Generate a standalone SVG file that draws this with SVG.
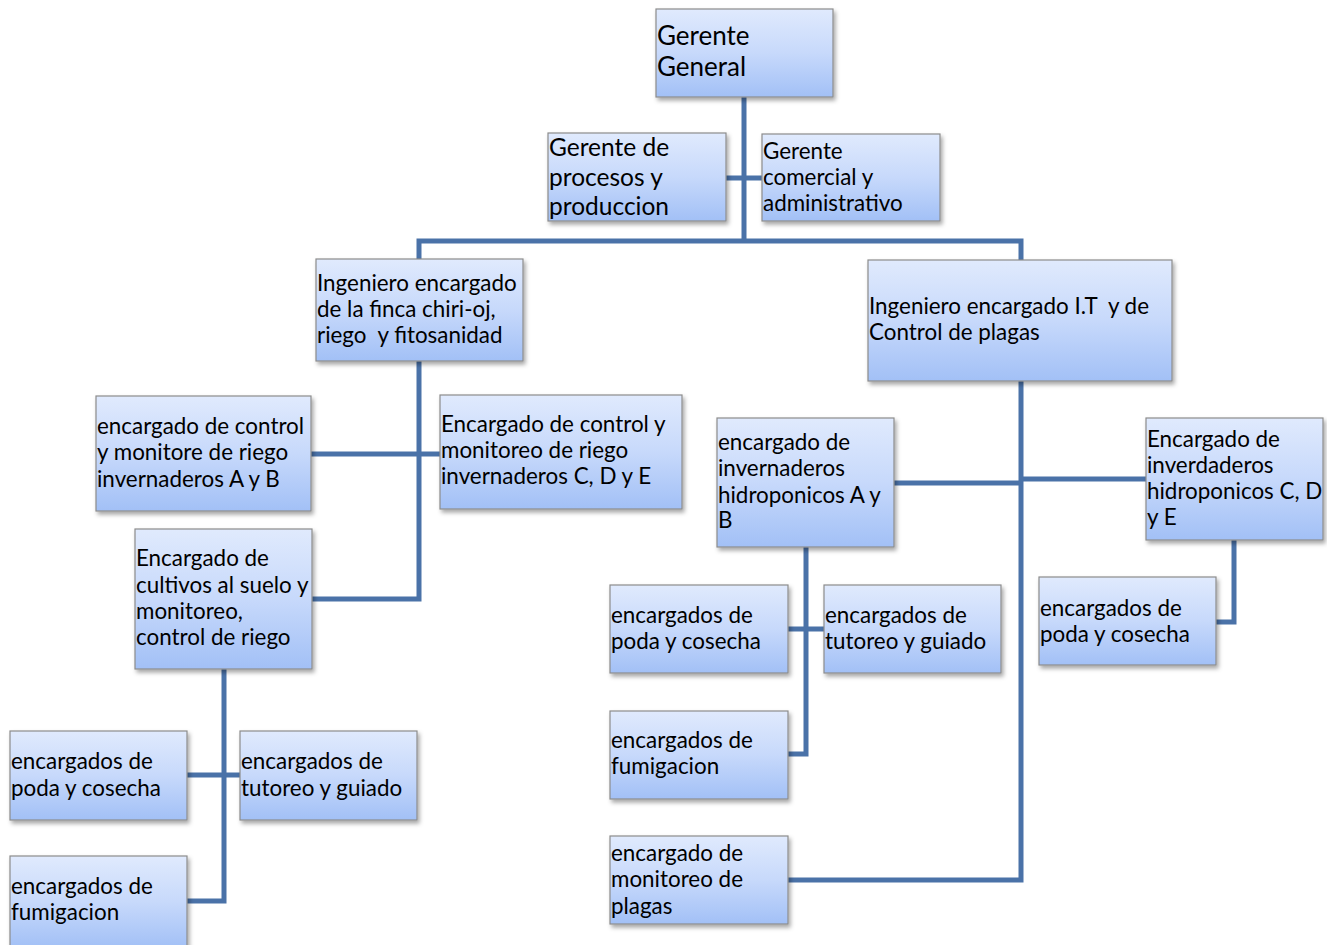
<svg xmlns="http://www.w3.org/2000/svg" width="1327" height="945" viewBox="0 0 1327 945">
<defs>
<linearGradient id="g" x1="0" y1="0" x2="0" y2="1">
<stop offset="0" stop-color="#e0eafd"/>
<stop offset="0.5" stop-color="#c7d9fb"/>
<stop offset="1" stop-color="#a2c0f6"/>
</linearGradient>
<filter id="sh" x="-10%" y="-10%" width="125%" height="130%">
<feDropShadow dx="2" dy="3" stdDeviation="2" flood-color="#000" flood-opacity="0.35"/>
</filter>
</defs>
<style>
.b{fill:url(#g);stroke:#8c8c8c;stroke-width:1.2;filter:url(#sh)}
text{font-family:Lato,"Open Sans","Liberation Sans",sans-serif;fill:#000;font-size:22.4px;white-space:pre}
.c{fill:none;stroke:#4a72a8;stroke-width:5;stroke-linejoin:miter}
</style>
<g id="connectors">
<path class="c" d="M744 97V241M726 178H762M419 259V241H1021V260"/>
<path class="c" d="M419 361V599H312M311 454H440"/>
<path class="c" d="M224 669V901H187M187 775H240"/>
<path class="c" d="M1021 381V880H788M894 483H1021M1021 479H1146"/>
<path class="c" d="M806 547V754H788M788 629H824"/>
<path class="c" d="M1234 540V622H1216"/>
</g>
<g id="n1"><rect class="b" x="656" y="9" width="177" height="88"/><text x="657" y="45" style="font-size:26px">Gerente</text><text x="657" y="76" style="font-size:26px">General</text></g>
<g id="n2"><rect class="b" x="548" y="133" width="178" height="88"/><text x="549" y="156" style="font-size:24.5px">Gerente de</text><text x="549" y="186" style="font-size:24.5px">procesos y</text><text x="549" y="215" style="font-size:24.5px">produccion</text></g>
<g id="n3"><rect class="b" x="762" y="134" width="178" height="87"/><text x="763" y="159">Gerente</text><text x="763" y="185">comercial y</text><text x="763" y="211">administrativo</text></g>
<g id="n4"><rect class="b" x="316" y="259" width="207" height="102"/><text x="317" y="291">Ingeniero encargado</text><text x="317" y="317">de la finca chiri-oj,</text><text x="317" y="343">riego  y fitosanidad</text></g>
<g id="n5"><rect class="b" x="868" y="260" width="304" height="121"/><text x="869" y="314">Ingeniero encargado I.T  y de</text><text x="869" y="340">Control de plagas</text></g>
<g id="n6"><rect class="b" x="96" y="396" width="215" height="115"/><text x="97" y="434">encargado de control</text><text x="97" y="460">y monitore de riego</text><text x="97" y="487">invernaderos A y B</text></g>
<g id="n7"><rect class="b" x="440" y="395" width="242" height="114"/><text x="441" y="432">Encargado de control y</text><text x="441" y="458">monitoreo de riego</text><text x="441" y="484">invernaderos C, D y E</text></g>
<g id="n8"><rect class="b" x="135" y="529" width="177" height="140"/><text x="136" y="566">Encargado de</text><text x="136" y="593">cultivos al suelo y</text><text x="136" y="619">monitoreo,</text><text x="136" y="645">control de riego</text></g>
<g id="n9"><rect class="b" x="717" y="418" width="177" height="129"/><text x="718" y="450">encargado de</text><text x="718" y="476">invernaderos</text><text x="718" y="503">hidroponicos A y</text><text x="718" y="528">B</text></g>
<g id="n10"><rect class="b" x="1146" y="418" width="177" height="122"/><text x="1147" y="447">Encargado de</text><text x="1147" y="473">inverdaderos</text><text x="1147" y="499">hidroponicos C, D</text><text x="1147" y="525">y E</text></g>
<g id="n11"><rect class="b" x="610" y="585" width="178" height="88"/><text x="611" y="623">encargados de</text><text x="611" y="649">poda y cosecha</text></g>
<g id="n12"><rect class="b" x="824" y="585" width="177" height="88"/><text x="825" y="623">encargados de</text><text x="825" y="649">tutoreo y guiado</text></g>
<g id="n13"><rect class="b" x="1039" y="577" width="177" height="88"/><text x="1040" y="616">encargados de</text><text x="1040" y="642">poda y cosecha</text></g>
<g id="n14"><rect class="b" x="610" y="711" width="178" height="88"/><text x="611" y="748">encargados de</text><text x="611" y="774">fumigacion</text></g>
<g id="n15"><rect class="b" x="610" y="836" width="178" height="88"/><text x="611" y="861">encargado de</text><text x="611" y="887">monitoreo de</text><text x="611" y="914">plagas</text></g>
<g id="n16"><rect class="b" x="10" y="731" width="177" height="89"/><text x="11" y="769">encargados de</text><text x="11" y="796">poda y cosecha</text></g>
<g id="n17"><rect class="b" x="240" y="731" width="177" height="89"/><text x="241" y="769">encargados de</text><text x="241" y="796">tutoreo y guiado</text></g>
<g id="n18"><rect class="b" x="10" y="856" width="177" height="92"/><text x="11" y="894">encargados de</text><text x="11" y="920">fumigacion</text></g>
</svg>
